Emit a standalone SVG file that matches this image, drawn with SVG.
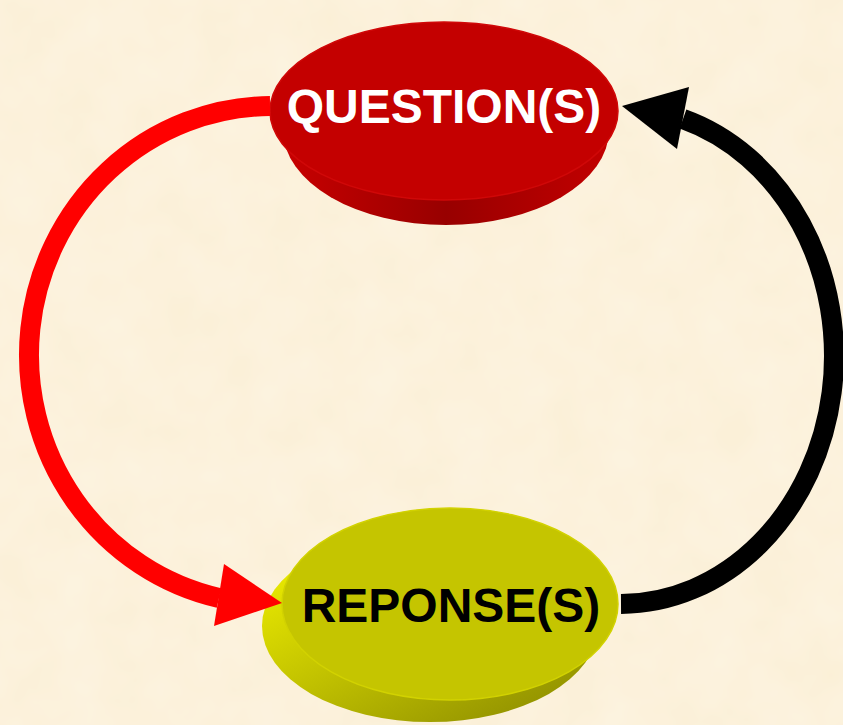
<svg xmlns="http://www.w3.org/2000/svg" width="843" height="725" viewBox="0 0 843 725">
<style>
.lbl{font-family:"Liberation Sans",Arial,sans-serif;font-weight:bold;font-size:48px;text-anchor:middle}
.conn{fill:none;stroke-width:20}
</style>
<defs>
<filter id="paper" x="0" y="0" width="100%" height="100%">
<feTurbulence type="fractalNoise" baseFrequency="0.02" numOctaves="3" seed="4"/>
<feColorMatrix type="matrix" values="0 0 0 0 1  0 0 0 0 0.98  0 0 0 0 0.92  0 0 0 0.35 0"/>
</filter>
<linearGradient id="redSide" x1="0" y1="0" x2="1" y2="0">
<stop offset="0" stop-color="#c80000"/>
<stop offset="0.5" stop-color="#980000"/>
<stop offset="1" stop-color="#c20000"/>
</linearGradient>
<linearGradient id="yelSide" x1="0" y1="0.2" x2="0.7" y2="1">
<stop offset="0" stop-color="#ecec00"/>
<stop offset="0.5" stop-color="#c2c200"/>
<stop offset="1" stop-color="#969600"/>
</linearGradient>
</defs>
<rect width="843" height="725" fill="#fbefd6"/>
<rect width="843" height="725" filter="url(#paper)"/>
<g id="question">
<ellipse cx="446" cy="130" rx="163" ry="95" fill="url(#redSide)"/>
<ellipse cx="444" cy="111" rx="174" ry="89" fill="#c40000" stroke="#d00808" stroke-width="1.5"/>
<text class="lbl" x="444" y="123" fill="#ffffff">QUESTION(S)</text>
</g>
<g id="reponse">
<ellipse cx="430" cy="626" rx="168" ry="96" fill="url(#yelSide)"/>
<ellipse cx="450" cy="604" rx="168" ry="96" fill="#c5c500" stroke="#d2d200" stroke-width="1.5"/>
<text class="lbl" x="451" y="622" fill="#000000">REPONSE(S)</text>
</g>
<g id="connectors">
<path class="conn" stroke="#ff0000" d="M 270 106 A 243 249 0 0 0 219 598"/>
<polygon fill="#ff0000" points="224,564 282,603 214,626"/>
<path class="conn" stroke="#000000" d="M 621 604 A 214 248 0 0 0 683 119"/>
<polygon fill="#000000" points="689,87 622,106 677,149"/>
</g>
</svg>
